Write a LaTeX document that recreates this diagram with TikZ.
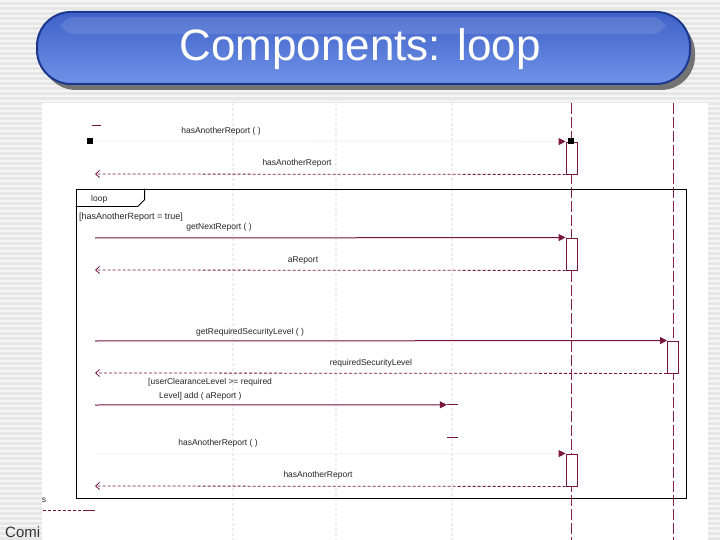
\documentclass[tikz,border=0pt]{standalone}
\usepackage{fontspec}
\setmainfont{Liberation Sans}
\usetikzlibrary{arrows.meta}
\definecolor{msgc}{RGB}{120,22,62}
\definecolor{lifec}{RGB}{140,30,80}
\definecolor{stripebg}{RGB}{230,230,230}
\definecolor{titletop}{RGB}{62,98,200}
\definecolor{titlebot}{RGB}{112,146,232}
\definecolor{titleedge}{RGB}{28,56,140}
\definecolor{faintc}{RGB}{238,238,238}
\begin{document}
\begin{tikzpicture}[x=1pt,y=-1pt,
  lbl/.style={font=\fontsize{8.5}{9}\selectfont, text=black!85, inner sep=0pt},
  guardlbl/.style={font=\fontsize{9}{10}\selectfont, text=black!85, inner sep=0pt},
  lifeline/.style={draw=lifec, line width=1pt, dash pattern=on 11pt off 3pt},
  actbox/.style={draw=msgc, fill=white, line width=0.9pt, minimum width=11pt, minimum height=32pt, inner sep=0pt},
  call/.style={draw=msgc, line width=1pt, -{Triangle[length=7pt,width=7pt,color=msgc]}},
  faintcall/.style={draw=msgc!5, line width=1pt, -{Triangle[length=7pt,width=7pt,color=msgc]}},
  ret/.style={draw=msgc, line width=0.8pt, dash pattern=on 3pt off 2pt, -{Straight Barb[length=4pt,width=7pt,line width=0.8pt,color=msgc]}},
  faintline/.style={draw=faintc, line width=1.5pt, dash pattern=on 3pt off 2pt},
  marker/.style={fill=black, minimum size=6pt, inner sep=0pt}
]
\useasboundingbox (0,0) rectangle (720,540);
% striped slide background
\fill[stripebg] (0,0) rectangle (720,540);
\foreach \yy in {1,6,...,540} \draw[white!60!stripebg, line width=2.2pt] (0,\yy) -- (720,\yy);
% footer text (clipped by white panel)
\node[anchor=base west, inner sep=0pt, text=black!80, font=\fontsize{15}{15}\selectfont] (coming) at (5,537) {Comi};
% title bar
\fill[black!55, rounded corners=34pt] (42,19) rectangle (695,90);
\shade[top color=titletop, bottom color=titlebot, rounded corners=34pt] (37,12) rectangle (690,84);
\draw[titleedge, line width=2pt, rounded corners=34pt] (37,12) rectangle (690,84);
\fill[white, opacity=0.12, rounded corners=14pt] (60,17) rectangle (666,34);
\node[anchor=base, text=white, inner sep=0pt, font=\fontsize{44}{44}\selectfont] (title) at (360,61) {Components: loop};
% white diagram panel
\fill[white] (42,103) rectangle (708,540);
% faint lifelines
\draw[faintline] (233,103) -- (233,540);
\draw[faintline] (336,103) -- (336,540);
\draw[faintline] (452,103) -- (452,540);
% lifelines
\draw[lifeline] (571,103) -- (571,540);
\draw[lifeline] (673,103) -- (673,540);
% activation boxes
\node[actbox] (a1) at (571.5,158) {};
\node[actbox] (a2) at (571.5,254) {};
\node[actbox] (a3) at (673,357) {};
\node[actbox] (a4) at (571.5,470) {};
\node[minimum width=11pt, minimum height=32pt, inner sep=0pt] (a5) at (452.5,421) {};
% markers
\node[marker] (sq1) at (90,141) {};
\node[marker] (sq2) at (571,141) {};
\coordinate (tk1) at (92,125);
\coordinate (tk2) at (101,125);
\draw[msgc, line width=0.9pt] (tk1) -- (tk2);
% left ends of messages
\coordinate (c1) at (95,141);
\coordinate (c2) at (95,174);
\coordinate (c3) at (95,238);
\coordinate (c4) at (95,270);
\coordinate (c5) at (95,341);
\coordinate (c6) at (95,373);
\coordinate (c7) at (95,405);
\coordinate (c8) at (95,454);
\coordinate (c9) at (95,486);
% loop frame
\node[draw=black, line width=0.8pt, minimum width=610pt, minimum height=309pt, inner sep=0pt] (frame) at (381,343.5) {};
\draw[black, line width=0.8pt] (frame.north west) ++(0,18) -- ++(62,0) -- ++(7,-7) -- ++(0,-11);
\node[lbl, anchor=west] (looplbl) at (91,199) {loop};
\node[guardlbl, anchor=west] (guard) at (79,217) {[hasAnotherReport = true]};
% messages
\draw[faintcall] (c1) -- (a1.north west);
\node[lbl] (t1) at (221,131) {hasAnotherReport ( )};
\draw[ret] (a1.south west) -- (c2);
\node[lbl] (t2) at (297,163) {hasAnotherReport};
\draw[call] (c3) -- (a2.north west);
\node[lbl] (t3) at (219,227) {getNextReport ( )};
\draw[ret] (a2.south west) -- (c4);
\node[lbl] (t4) at (303,260) {aReport};
\draw[call] (c5) -- (a3.north west);
\node[lbl] (t5) at (250,332) {getRequiredSecurityLevel ( )};
\draw[ret] (a3.south west) -- (c6);
\node[lbl] (t6) at (371,363) {requiredSecurityLevel};
\draw[call] (c7) -- (a5.north west);
\draw[msgc, line width=1pt] (a5.north west) -- (a5.north east);
\draw[msgc, line width=1pt] (a5.south west) -- (a5.south east);
\node[lbl, anchor=west] (t7a) at (148,382) {[userClearanceLevel >= required};
\node[lbl, anchor=west] (t7b) at (159,396) {Level] add ( aReport )};
\draw[faintcall] (c8) -- (a4.north west);
\node[lbl] (t8) at (218,443) {hasAnotherReport ( )};
\draw[ret] (a4.south west) -- (c9);
\node[lbl] (t9) at (318,475) {hasAnotherReport};
% below frame
\coordinate (b1) at (43,510);
\coordinate (b2) at (83,510);
\coordinate (b3) at (95,510);
\draw[msgc, line width=0.8pt, dash pattern=on 3pt off 2pt] (b1) -- (b2);
\draw[msgc, line width=0.8pt] (b2) -- (b3);
\node[lbl] (sfrag) at (44,500) {s};
\end{tikzpicture}
\end{document}
